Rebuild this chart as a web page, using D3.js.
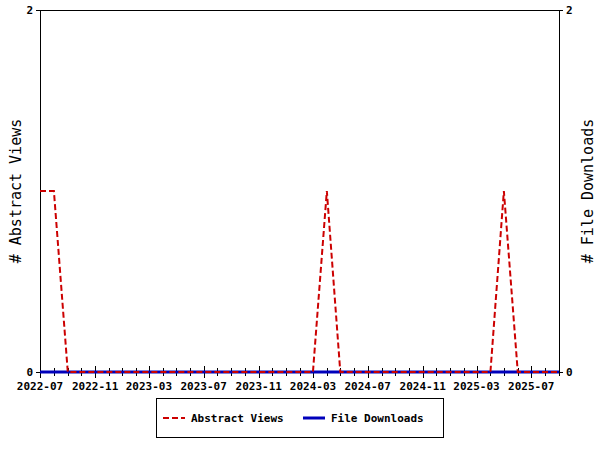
<!DOCTYPE html>
<html>
<head>
<meta charset="utf-8">
<script src="https://cdn.jsdelivr.net/npm/d3@7"></script>
<style>
  body { margin: 0; background: #fff; }
  svg { display: block; font-family: "DejaVu Sans Mono", monospace; }
</style>
</head>
<body>
<svg width="600" height="450"></svg>
<script>
let months = ['2022-07','2022-08','2022-09','2022-10','2022-11','2022-12',
  '2023-01','2023-02','2023-03','2023-04','2023-05','2023-06','2023-07','2023-08','2023-09','2023-10','2023-11','2023-12',
  '2024-01','2024-02','2024-03','2024-04','2024-05','2024-06','2024-07','2024-08','2024-09','2024-10','2024-11','2024-12',
  '2025-01','2025-02','2025-03','2025-04','2025-05','2025-06','2025-07','2025-08','2025-09'];
let abstractViews = [1,1,0,0,0,0, 0,0,0,0,0,0,0,0,0,0,0,0, 0,0,0,1,0,0,0,0,0,0,0,0, 0,0,0,0,1,0,0,0,0];
let fileDownloads = months.map(() => 0);
let tickLabels = ['2022-07','2022-11','2023-03','2023-07','2023-11','2024-03','2024-07','2024-11','2025-03','2025-07'];
let yTicks = [0, 2];

let plotLeft = 40, plotRight = 559, plotTop = 10, plotBottom = 372;
let parse = d3.timeParse('%Y-%m');
let fmt = d3.timeFormat('%Y-%m');
let dates = months.map(parse);

let svg = d3.select('svg');

let xScale = d3.scaleTime()
  .domain(d3.extent(dates))
  .range([plotLeft, plotRight]);

let yScale = d3.scaleLinear()
  .domain([0, 2])
  .range([plotBottom, plotTop]);

// plot frame
svg.append('rect')
  .attr('x', plotLeft + 0.5).attr('y', plotTop + 0.5)
  .attr('width', plotRight - plotLeft).attr('height', plotBottom - plotTop)
  .attr('fill', 'none').attr('stroke', '#000').attr('stroke-width', 1)
  .attr('shape-rendering', 'crispEdges');

// month ticks crossing the bottom axis
let g = svg.append('g').attr('shape-rendering', 'crispEdges');
g.selectAll('line')
  .data(dates)
  .enter().append('line')
  .attr('x1', d => Math.round(xScale(d)) + 0.5)
  .attr('x2', d => Math.round(xScale(d)) + 0.5)
  .attr('y1', d => tickLabels.includes(fmt(d)) ? plotBottom - 6 : plotBottom - 4)
  .attr('y2', d => tickLabels.includes(fmt(d)) ? plotBottom + 6 : plotBottom + 4)
  .attr('stroke', '#000');

svg.selectAll('text.xlab')
  .data(tickLabels)
  .enter().append('text')
  .attr('class', 'xlab')
  .attr('x', d => xScale(parse(d)))
  .attr('y', plotBottom + 18)
  .attr('text-anchor', 'middle')
  .attr('font-size', 11)
  .attr('font-weight', 'bold')
  .text(d => d);

// y axes
let yAxisL = d3.axisLeft(yScale).tickValues(yTicks).tickSize(4).tickFormat(d3.format('d'));
let yAxisR = d3.axisRight(yScale).tickValues(yTicks).tickSize(4).tickFormat(d3.format('d'));
[[yAxisL, plotLeft], [yAxisR, plotRight]].forEach(([ax, x]) => {
  let a = svg.append('g')
    .attr('transform', `translate(${x},0)`)
    .call(ax);
  a.select('.domain').remove();
  a.selectAll('text')
    .attr('font-family', '"DejaVu Sans Mono", monospace')
    .attr('font-size', 11)
    .attr('font-weight', 'bold')
    .attr('fill', '#000');
  a.selectAll('line').attr('stroke', '#000');
});

svg.append('text')
  .attr('transform', 'rotate(-90)')
  .attr('x', -(plotTop + plotBottom) / 2)
  .attr('y', 21)
  .attr('text-anchor', 'middle')
  .attr('font-size', 15)
  .text('# Abstract Views');

svg.append('text')
  .attr('transform', 'rotate(-90)')
  .attr('x', -(plotTop + plotBottom) / 2)
  .attr('y', 593)
  .attr('text-anchor', 'middle')
  .attr('font-size', 15)
  .text('# File Downloads');

let line = d3.line()
  .x((d, i) => xScale(dates[i]))
  .y(d => yScale(d));

svg.append('path')
  .datum(fileDownloads)
  .attr('d', line)
  .attr('fill', 'none')
  .attr('stroke', '#0000bb')
  .attr('stroke-width', 3);

svg.append('path')
  .datum(abstractViews)
  .attr('d', line)
  .attr('fill', 'none')
  .attr('stroke', '#cc0000')
  .attr('stroke-width', 2)
  .attr('stroke-dasharray', '6,3');

// legend
svg.append('rect')
  .attr('x', 156.5).attr('y', 398.5)
  .attr('width', 287).attr('height', 39)
  .attr('fill', '#fff').attr('stroke', '#000');

let legendItems = [
  {name: 'Abstract Views', color: '#cc0000', dash: '6,3', width: 2, x: 163},
  {name: 'File Downloads', color: '#0000bb', dash: null, width: 3, x: 303}
];
legendItems.forEach(item => {
  svg.append('line')
    .attr('x1', item.x).attr('x2', item.x + 22)
    .attr('y1', 418).attr('y2', 418)
    .attr('stroke', item.color)
    .attr('stroke-width', item.width)
    .attr('stroke-dasharray', item.dash);
  svg.append('text')
    .attr('x', item.x + 28)
    .attr('y', 422)
    .attr('font-size', 11)
    .attr('font-weight', 'bold')
    .text(item.name);
});
</script>
</body>
</html>
